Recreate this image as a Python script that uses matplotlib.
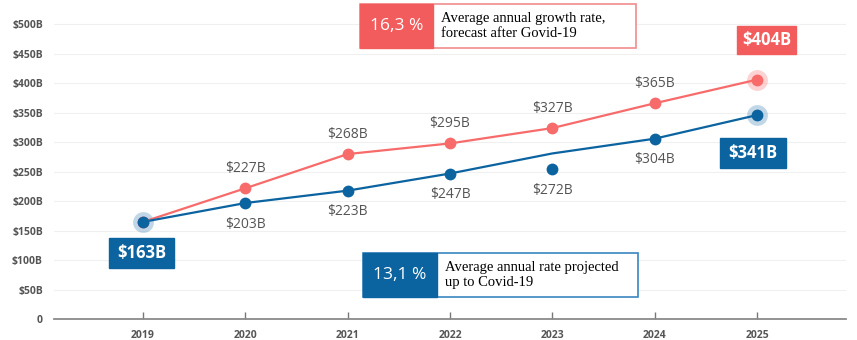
#!/usr/bin/env python3
"""Market size forecast: growth after Covid-19 vs projected rate up to Covid-19."""

import matplotlib

matplotlib.use("Agg")
import matplotlib.pyplot as plt
from matplotlib.patches import Rectangle

years = [2019, 2020, 2021, 2022, 2023, 2024, 2025]

# where the dots sit on the chart (in $B)
after_covid = [165, 222, 280, 298, 324, 366, 406]
before_covid_line = [165, 197, 218, 247, 281, 306, 346]
before_covid_dots = [165, 197, 218, 247, 254, 306, 346]

# printed labels
after_labels = [None, "$227B", "$268B", "$295B", "$327B", "$365B", "$404B"]
before_labels = ["$163B", "$203B", "$223B", "$247B", "$272B", "$304B", "$341B"]

y_ticks = [0, 50, 100, 150, 200, 250, 300, 350, 400, 450, 500]
y_tick_labels = ["0"] + [f"${v}B" for v in y_ticks[1:]]

RED = "#F76B6B"
RED_BOX = "#F25C5C"
BLUE = "#0B63A0"
GREY = "#555555"

W, H = 857, 340


def fx(px):
    return px / W


def fy(py):
    return 1 - py / H


def main():
    fig = plt.figure(figsize=(W / 100, H / 100), dpi=100)
    ax = fig.add_axes([fx(54), 20.7 / H, 792 / W, 319.3 / H])
    ax.set_xlim(2018.13, 2025.87)
    ax.set_ylim(0, 541)

    for s in ["top", "right", "left"]:
        ax.spines[s].set_visible(False)
    ax.spines["bottom"].set_color("#8A8A8A")
    ax.spines["bottom"].set_linewidth(1.3)

    ax.set_yticks(y_ticks)
    ax.set_yticklabels(y_tick_labels, fontsize=7.5, fontweight="bold", color=GREY, family="Open Sans")
    ax.tick_params(axis="y", length=0, pad=8)
    for v in y_ticks[1:]:
        ax.axhline(v, color="#F0F0F0", lw=0.8, zorder=0)

    ax.set_xticks(years)
    ax.set_xticklabels([str(y) for y in years], fontsize=7.5, fontweight="bold", color=GREY, family="Open Sans")
    ax.tick_params(axis="x", direction="in", length=5, width=1, color="#777777", pad=8)

    # halos
    ax.plot(years[0], before_covid_dots[0], "o", ms=15, color=BLUE, alpha=0.25, mec="none", zorder=2)
    ax.plot(years[-1], before_covid_dots[-1], "o", ms=15, color=BLUE, alpha=0.25, mec="none", zorder=2)
    ax.plot(years[-1], after_covid[-1], "o", ms=15, color=RED, alpha=0.3, mec="none", zorder=2)

    ax.plot(years, after_covid, color=RED, lw=1.6, zorder=3)
    ax.plot(years, before_covid_line, color=BLUE, lw=1.6, zorder=3)
    ax.plot(years, after_covid, "o", ms=8.5, color=RED, mec="none", zorder=4)
    ax.plot(years, before_covid_dots, "o", ms=8.5, color=BLUE, mec="none", zorder=4)

    font = dict(family="Open Sans", fontsize=10, color=GREY, ha="center", va="center")
    for x, y, lab in zip(years[1:-1], after_covid[1:-1], after_labels[1:-1]):
        ax.annotate(lab, (x, y), xytext=(0, 20), textcoords="offset pixels", **font)
    for x, y, lab in zip(years[1:-1], before_covid_dots[1:-1], before_labels[1:-1]):
        ax.annotate(lab, (x, y), xytext=(0, -21), textcoords="offset pixels", **font)

    # boxed end labels (pixel positions of the boxes)
    boxes = [
        (before_labels[0], BLUE, 109, 238, 174, 268),
        (before_labels[-1], BLUE, 720, 138, 786, 168),
        (after_labels[-1], RED_BOX, 737, 26, 796, 54),
    ]
    for lab, col, x0, y0, x1, y1 in boxes:
        fig.patches.append(Rectangle((fx(x0), fy(y1)), fx(x1 - x0), (y1 - y0) / H,
                                     transform=fig.transFigure, color=col, zorder=5))
        fig.text(fx((x0 + x1) / 2), fy((y0 + y1) / 2), lab, color="white", fontsize=12,
                 fontweight="bold", family="Open Sans", ha="center", va="center", zorder=6)

    # rate boxes
    rate_boxes = [
        ("16,3 %", "Average annual growth rate,\nforecast after Govid-19", RED_BOX, "#F28C8C",
         360, 4, 433, 636, 48),
        ("13,1 %", "Average annual rate projected\nup to Covid-19", BLUE, "#3A86C0",
         363, 253, 437, 638, 297),
    ]
    for pct, desc, col, edge, x0, y0, xm, x1, y1 in rate_boxes:
        fig.patches.append(Rectangle((fx(x0), fy(y1)), fx(x1 - x0), (y1 - y0) / H,
                                     transform=fig.transFigure, facecolor="white",
                                     edgecolor=edge, lw=1.2, zorder=5))
        fig.patches.append(Rectangle((fx(x0), fy(y1)), fx(xm - x0), (y1 - y0) / H,
                                     transform=fig.transFigure, color=col, zorder=6))
        fig.text(fx((x0 + xm) / 2), fy((y0 + y1) / 2), pct, color="white", fontsize=12.5,
                 family="Open Sans", ha="center", va="center", zorder=7)
        fig.text(fx(xm + 8), fy((y0 + y1) / 2), desc, color="black", fontsize=10.5,
                 family="Liberation Serif", ha="left", va="center", linespacing=1.2, zorder=7)

    fig.savefig("out.png", dpi=100)


if __name__ == "__main__":
    main()
